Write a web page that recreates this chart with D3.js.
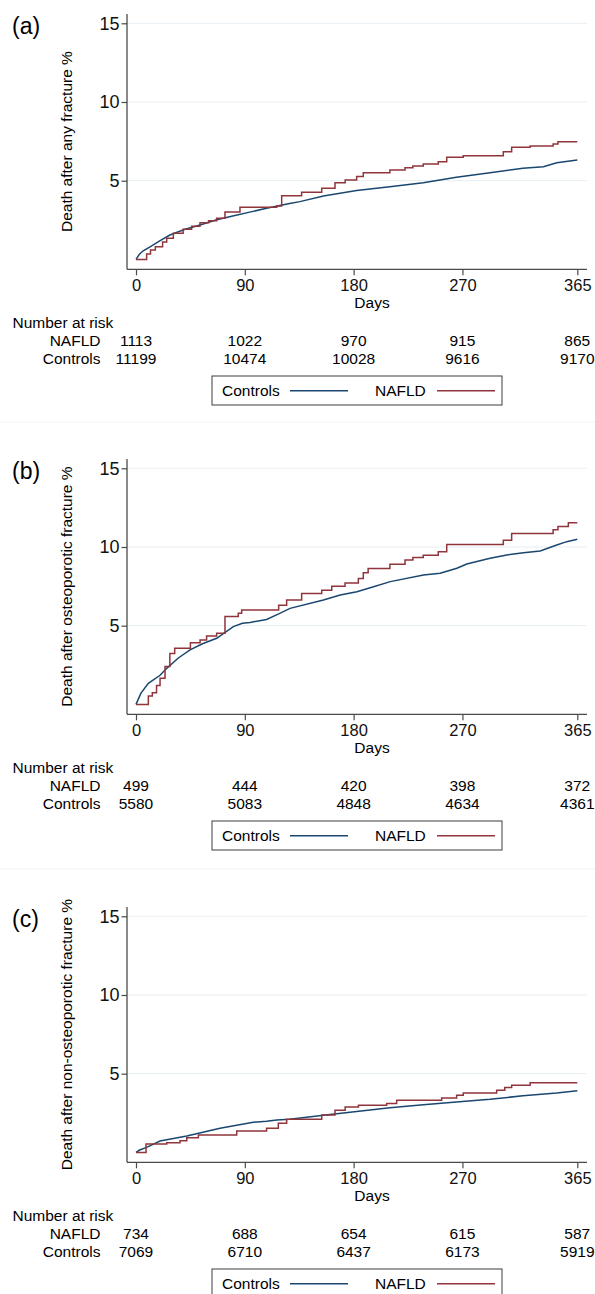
<!DOCTYPE html>
<html>
<head>
<meta charset="utf-8">
<script src="https://cdn.jsdelivr.net/npm/d3@7"></script>
<style>
  body { margin: 0; background: #fff; }
  svg { display: block; font-family: "Liberation Sans", Arial, sans-serif; }
</style>
</head>
<body>
<svg id="chart" width="595" height="1294"></svg>
<script>
// values: [day, cumulative death %]
const ctrlA = [[0,0],[3,0.35],[6,0.55],[11.6,0.8],[20,1.19],[28,1.55],[40,1.9],[53,2.19],[66,2.5],[80,2.76],[95,3.02],[108,3.25],[127,3.55],[135.6,3.67],[155,4.03],[182.5,4.37],[210,4.62],[237.6,4.87],[265,5.22],[292.8,5.51],[320,5.79],[337,5.89],[348,6.14],[365,6.32]];
const nafldA = [[0,0],[8.8,0.35],[12,0.6],[16,0.8],[22,1.1],[25.4,1.34],[30.9,1.66],[39,1.91],[46,2.1],[52.9,2.33],[60,2.45],[66.7,2.61],[73.6,3.01],[86,3.31],[116.4,3.39],[120.5,4.05],[137,4.26],[153.6,4.52],[164.6,4.87],[173,5.04],[182.5,5.26],[188,5.51],[210,5.68],[222.5,5.83],[229,5.93],[237.6,6.06],[250,6.21],[257,6.49],[270.7,6.59],[303.8,6.84],[310.7,7.12],[326,7.2],[345,7.33],[349,7.48],[365,7.48]];

const ctrlB = [[0,0],[4,0.7],[10.2,1.34],[19.9,1.85],[25.4,2.29],[35,2.95],[44.7,3.46],[55,3.85],[66.7,4.2],[80.5,4.94],[88,5.15],[94.3,5.21],[108,5.4],[118,5.75],[127.4,6.1],[155,6.63],[168.9,6.95],[182.7,7.16],[196.5,7.48],[210.3,7.8],[237.8,8.22],[251.6,8.33],[265.4,8.65],[273.6,8.92],[292.9,9.28],[306.7,9.49],[320.5,9.64],[334.3,9.75],[348,10.13],[356.3,10.34],[365,10.49]];
const nafldB = [[0,0],[10.2,0.53],[13.5,0.74],[17,1.2],[19.9,1.66],[24,2.4],[28,3.24],[32,3.56],[45,3.92],[53,4.09],[58.4,4.35],[66.7,4.52],[73.6,5.58],[84.6,5.79],[87.4,6.0],[118,6.3],[124.6,6.63],[137,7.05],[153.6,7.26],[161.9,7.5],[172.9,7.71],[183.9,8.0],[188,8.36],[192,8.64],[210,8.91],[222.5,9.17],[229,9.34],[237.6,9.48],[250,9.7],[257,10.16],[303.8,10.43],[310.7,10.85],[345,11.1],[349,11.31],[357.6,11.54],[365,11.54]];

const ctrlC = [[0,0],[3,0.15],[8.8,0.32],[19.9,0.72],[42,1.04],[69.5,1.53],[97,1.91],[108,1.98],[116.4,2.06],[127,2.1],[155,2.36],[182.5,2.6],[210,2.83],[237.6,3.02],[265,3.2],[292.8,3.37],[320,3.6],[348,3.78],[365,3.92]];
const nafldC = [[0,0],[8.3,0.53],[25.4,0.62],[36.4,0.74],[42,0.93],[51.6,1.1],[83.3,1.36],[108,1.53],[117.7,1.85],[124.6,2.1],[153.6,2.38],[164.6,2.68],[173,2.88],[184,3.0],[207.3,3.1],[215.6,3.32],[252.8,3.45],[265.2,3.63],[270.7,3.78],[298.3,3.95],[305,4.12],[310.7,4.27],[326,4.42],[365,4.42]];

const dayTicks = [0, 90, 180, 270, 365];
const pctTicks = [5, 10, 15];

const riskNafldA = [1113, 1022, 970, 915, 865];
const riskCtrlA = [11199, 10474, 10028, 9616, 9170];
const riskNafldB = [499, 444, 420, 398, 372];
const riskCtrlB = [5580, 5083, 4848, 4634, 4361];
const riskNafldC = [734, 688, 654, 615, 587];
const riskCtrlC = [7069, 6710, 6437, 6173, 5919];

const panels = [
  { tag: "(a)", title: "Death after any fracture %", ctrl: ctrlA, nafld: nafldA, riskN: riskNafldA, riskC: riskCtrlA, top: 0 },
  { tag: "(b)", title: "Death after osteoporotic fracture %", ctrl: ctrlB, nafld: nafldB, riskN: riskNafldB, riskC: riskCtrlB, top: 445 },
  { tag: "(c)", title: "Death after non-osteoporotic fracture %", ctrl: ctrlC, nafld: nafldC, riskN: riskNafldC, riskC: riskCtrlC, top: 893 },
];

const navy = "#1a476f";
const maroon = "#90353b";
const axisColor = "#4a4a4a";
const fs = 15.5;

const svg = d3.select("#chart");
svg.append("rect").attr("width", 595).attr("height", 1294).attr("fill", "#fff");

// faint borders left over from the separate panel images
[422, 869].forEach((yy) => {
  svg.append("line").attr("x1", 0).attr("x2", 595).attr("y1", yy).attr("y2", yy)
    .attr("stroke", "#f1f3f4").attr("stroke-width", 1);
});

const x = d3.scaleLinear().domain([0, 365]).range([136, 577.3]);

panels.forEach((p) => {
  const g = svg.append("g");
  const t = p.top;
  const y = d3.scaleLinear().domain([0, 15]).range([259.4 + t, 23.3 + t]);
  const axisY = 269.3 + t;
  const axisX = 127;

  g.append("text").attr("x", 12).attr("y", 26 + t).attr("dy", "0.35em")
    .attr("font-size", 23).text(p.tag);

  // gridlines
  g.selectAll(".grid").data(pctTicks).enter().append("line")
    .attr("x1", axisX).attr("x2", 587)
    .attr("y1", (d) => y(d)).attr("y2", (d) => y(d))
    .attr("stroke", "#e6eef2").attr("stroke-width", 1);

  // y axis
  const yAxis = g.append("g").attr("transform", `translate(${axisX},0)`)
    .call(d3.axisLeft(y).tickValues(pctTicks).tickSize(5.5).tickPadding(2));
  yAxis.select(".domain").remove();
  yAxis.selectAll(".tick line").attr("stroke", axisColor).attr("stroke-width", 1.2);
  yAxis.selectAll(".tick text").attr("font-size", 18).attr("fill", "#111")
    .attr("font-family", "Liberation Sans, Arial, sans-serif");
  g.append("line").attr("x1", axisX).attr("x2", axisX).attr("y1", 14 + t).attr("y2", axisY)
    .attr("stroke", axisColor).attr("stroke-width", 1.3);

  // x axis
  const xAxis = g.append("g").attr("transform", `translate(0,${axisY})`)
    .call(d3.axisBottom(x).tickValues(dayTicks).tickFormat(d3.format("d")).tickSize(6).tickPadding(4));
  xAxis.select(".domain").remove();
  xAxis.selectAll(".tick line").attr("stroke", axisColor).attr("stroke-width", 1.2);
  xAxis.selectAll(".tick text").attr("font-size", 16.5).attr("fill", "#111")
    .attr("font-family", "Liberation Sans, Arial, sans-serif");
  g.append("line").attr("x1", axisX).attr("x2", 587).attr("y1", axisY).attr("y2", axisY)
    .attr("stroke", axisColor).attr("stroke-width", 1.3);

  g.append("text").attr("x", 372).attr("y", 303 + t).attr("dy", "0.35em")
    .attr("text-anchor", "middle").attr("font-size", fs).text("Days");

  g.append("text")
    .attr("transform", `translate(67,${141.6 + t}) rotate(-90)`)
    .attr("dy", "0.35em").attr("text-anchor", "middle").attr("font-size", fs)
    .text(p.title);

  // curves
  const ctrlLine = d3.line().x((d) => x(d[0])).y((d) => y(d[1]));
  const nafldLine = d3.line().x((d) => x(d[0])).y((d) => y(d[1])).curve(d3.curveStepAfter);
  g.append("path").datum(p.ctrl).attr("d", ctrlLine)
    .attr("fill", "none").attr("stroke", navy).attr("stroke-width", 1.5);
  g.append("path").datum(p.nafld).attr("d", nafldLine)
    .attr("fill", "none").attr("stroke", maroon).attr("stroke-width", 1.5);

  // number at risk table
  g.append("text").attr("x", 12.5).attr("y", 322.7 + t).attr("dy", "0.35em")
    .attr("font-size", fs).text("Number at risk");
  const rows = [["NAFLD", p.riskN, 340.7], ["Controls", p.riskC, 359]];
  rows.forEach(([name, vals, ry]) => {
    g.append("text").attr("x", 100.5).attr("y", ry + t).attr("dy", "0.35em")
      .attr("text-anchor", "end").attr("font-size", fs).text(name);
    g.selectAll(null).data(vals).enter().append("text")
      .attr("x", (d, i) => x(dayTicks[i])).attr("y", ry + t).attr("dy", "0.35em")
      .attr("text-anchor", "middle").attr("font-size", fs).text((d) => d);
  });

  // legend
  const ly = 390.7 + t;
  g.append("rect").attr("x", 212).attr("y", 376 + t).attr("width", 290).attr("height", 29)
    .attr("fill", "#fff").attr("stroke", "#3c3c3c").attr("stroke-width", 1);
  g.append("text").attr("x", 222).attr("y", ly).attr("dy", "0.35em").attr("font-size", fs).text("Controls");
  g.append("line").attr("x1", 290).attr("x2", 348).attr("y1", ly).attr("y2", ly)
    .attr("stroke", navy).attr("stroke-width", 1.5);
  g.append("text").attr("x", 375).attr("y", ly).attr("dy", "0.35em").attr("font-size", fs).text("NAFLD");
  g.append("line").attr("x1", 437).attr("x2", 495).attr("y1", ly).attr("y2", ly)
    .attr("stroke", maroon).attr("stroke-width", 1.5);
});
</script>
</body>
</html>
